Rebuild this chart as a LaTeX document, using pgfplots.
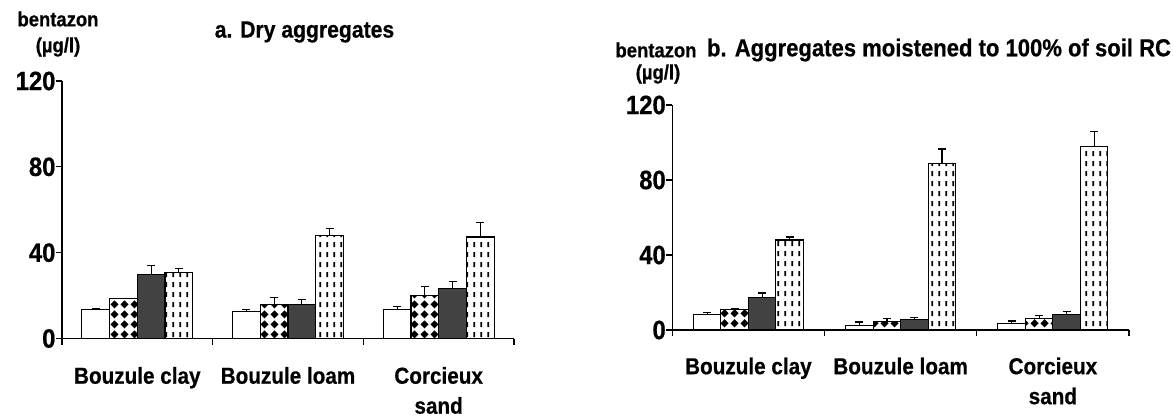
\documentclass[border=0pt]{standalone}
\usepackage{fontspec}
\setmainfont[FakeStretch=0.9, BoldFeatures={FakeStretch=0.9, FakeBold=0.6}]{Liberation Sans}
\usepackage{pgfplots}
\pgfplotsset{compat=1.18}
\usepackage{pgfplotstable}
\usetikzlibrary{patterns}

\pgfdeclarepatternformonly{diamondgrid}{\pgfpointorigin}{\pgfpoint{10pt}{10pt}}{\pgfpoint{10pt}{10pt}}{%
  \pgfpathmoveto{\pgfpoint{5pt}{0.6pt}}%
  \pgfpathlineto{\pgfpoint{9.4pt}{5pt}}%
  \pgfpathlineto{\pgfpoint{5pt}{9.4pt}}%
  \pgfpathlineto{\pgfpoint{0.6pt}{5pt}}%
  \pgfpathclose
  \pgfusepath{fill}%
}
\pgfdeclarepatternformonly{vdashes}{\pgfpointorigin}{\pgfpoint{6.8pt}{10pt}}{\pgfpoint{6.8pt}{10pt}}{%
  \pgfsetlinewidth{1.9pt}%
  \pgfpathmoveto{\pgfpoint{3.4pt}{2pt}}%
  \pgfpathlineto{\pgfpoint{3.4pt}{7.5pt}}%
  \pgfusepath{stroke}%
}

% panel a: x = category centre, y = mean, e = upper error
\pgfplotstableread{
x y e
0.5 13.7 0.3
1.5 12.7 0.8
2.5 13.6 1.2
}\aOne
\pgfplotstableread{
x y e
0.5 18.5 0.3
1.5 15.7 3.3
2.5 20.0 4.3
}\aTwo
\pgfplotstableread{
x y e
0.5 29.7 4.3
1.5 16.0 2.3
2.5 23.3 3.3
}\aThree
\pgfplotstableread{
x y e
0.5 30.7 1.8
1.5 48.2 3.0
2.5 47.3 6.9
}\aFour
% panel b
\pgfplotstableread{
x y e
0.5 8.5 0.9
1.5 2.5 1.8
2.5 3.7 1.1
}\bOne
\pgfplotstableread{
x y e
0.5 10.7 0.5
1.5 4.3 1.7
2.5 6.0 1.6
}\bTwo
\pgfplotstableread{
x y e
0.5 17.1 2.6
1.5 5.5 1.1
2.5 8.2 1.6
}\bThree
\pgfplotstableread{
x y e
0.5 48.0 1.6
1.5 88.9 7.6
2.5 98.0 7.8
}\bFour

\pgfplotsset{
  myaxis/.style={
    scale only axis, anchor=south west,
    axis lines*=left,
    xmin=0, xmax=3, ymin=0, ymax=120,
    ytick={0,40,80,120}, xtick={0,1,2,3}, xticklabels={},
    tick align=outside, major tick length=6pt,
    every tick/.style={black, line width=1.2pt},
    axis line style={black, line width=1.2pt},
    ybar,
    extra x ticks={0.5,1.5,2.5},
    extra x tick labels={Bouzule clay, Bouzule loam, {Corcieux\\sand}},
    extra x tick style={major tick length=0pt,
      tick label style={align=center, font=\fontsize{23}{30}\selectfont\bfseries, yshift=#1}},
    yticklabel style={font=\fontsize{26.5}{28}\selectfont\bfseries, xshift=3pt},
    /pgf/number format/assume math mode=true,
    clip=false,
  },
  eb/.style={error bars/.cd, y dir=plus, y explicit, error mark=|,
     error bar style={black, line width=1.2pt},
     error mark options={black, line width=1.2pt, mark size=4pt}},
  s1/.style={draw=black, line width=1.1pt, fill=white},
  s2/.style={draw=black, line width=1.1pt, fill=white, postaction={pattern=diamondgrid}},
  s3/.style={draw=black, line width=1.1pt, fill=black!74},
  s4/.style={draw=black, line width=1.1pt, fill=white, postaction={pattern=vdashes}},
}

\begin{document}
\begin{tikzpicture}[x=1pt,y=1pt]
\path[use as bounding box] (0,0) rectangle (1173,418);

\begin{axis}[myaxis=-25pt, at={(62pt,79.5pt)}, width=452pt, height=257.5pt, bar width=27.7pt]
\addplot[s1, bar shift=-41.55pt, eb] table[x=x, y=y, y error=e] {\aOne};
\addplot[s2, bar shift=-13.85pt, eb] table[x=x, y=y, y error=e] {\aTwo};
\addplot[s3, bar shift=13.85pt, eb] table[x=x, y=y, y error=e] {\aThree};
\addplot[s4, bar shift=41.55pt, eb] table[x=x, y=y, y error=e] {\aFour};
\end{axis}

\begin{axis}[myaxis=-24pt, at={(672.3pt,88pt)}, width=456.7pt, height=225pt, bar width=27.5pt]
\addplot[s1, bar shift=-41.25pt, eb] table[x=x, y=y, y error=e] {\bOne};
\addplot[s2, bar shift=-13.75pt, eb] table[x=x, y=y, y error=e] {\bTwo};
\addplot[s3, bar shift=13.75pt, eb] table[x=x, y=y, y error=e] {\bThree};
\addplot[s4, bar shift=41.25pt, eb] table[x=x, y=y, y error=e] {\bFour};
\end{axis}

\node[font=\fontsize{20.5}{22}\selectfont\bfseries] at (58,399) {bentazon};
\node[font=\fontsize{20.5}{22}\selectfont\bfseries] at (58,371) {(µg/l)};
\node[font=\fontsize{23.5}{26}\selectfont\bfseries] at (304.5,386) {a. Dry aggregates};

\node[font=\fontsize{20.5}{22}\selectfont\bfseries] at (656,368) {bentazon};
\node[font=\fontsize{20.5}{22}\selectfont\bfseries] at (658,344) {(µg/l)};
\node[font=\fontsize{24.5}{26}\selectfont\bfseries] at (939,368) {b. Aggregates moistened to 100\% of soil RC};
\end{tikzpicture}
\end{document}
